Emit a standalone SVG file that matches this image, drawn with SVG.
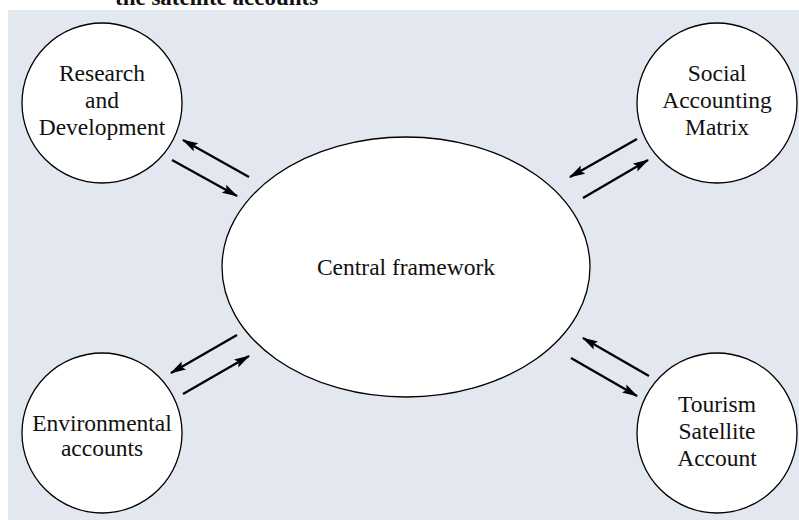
<svg xmlns="http://www.w3.org/2000/svg" width="799" height="520" viewBox="0 0 799 520">
<defs>
<style>
.bg{fill:#e2e7f0}
.node{fill:#ffffff;stroke:#000000;stroke-width:1.3}
.lbl{font-family:"Liberation Serif","Times New Roman",serif;font-size:23.5px;fill:#111111;text-anchor:middle}
.title{font-family:"Liberation Serif","Times New Roman",serif;font-size:23px;font-weight:bold;fill:#111111}
.arr{stroke:#000000;stroke-width:2.3;fill:none;marker-end:url(#ah)}
</style>
<marker id="ah" viewBox="0 0 14 8" refX="13" refY="4" markerWidth="7" markerHeight="4.2" orient="auto" markerUnits="strokeWidth">
<path d="M0,0 L14,4 L0,8 L2.5,4 Z" fill="#000000"/>
</marker>
</defs>
<rect class="bg" x="8" y="10" width="791" height="510"/>
<text class="title" x="115" y="5">the satellite accounts</text>
<g id="central">
<ellipse class="node" cx="406" cy="267" rx="184" ry="130"/>
<text class="lbl" x="406" y="275">Central framework</text>
</g>
<g id="research">
<circle class="node" cx="102" cy="103" r="80"/>
<text class="lbl" x="102" y="81">Research</text>
<text class="lbl" x="102" y="108">and</text>
<text class="lbl" x="102" y="135">Development</text>
</g>
<g id="sam">
<circle class="node" cx="717" cy="103" r="80"/>
<text class="lbl" x="717" y="81">Social</text>
<text class="lbl" x="717" y="108">Accounting</text>
<text class="lbl" x="717" y="135">Matrix</text>
</g>
<g id="environmental">
<circle class="node" cx="102" cy="433" r="80"/>
<text class="lbl" x="102" y="431">Environmental</text>
<text class="lbl" x="102" y="456">accounts</text>
</g>
<g id="tsa">
<circle class="node" cx="717" cy="433" r="80"/>
<text class="lbl" x="717" y="412">Tourism</text>
<text class="lbl" x="717" y="439">Satellite</text>
<text class="lbl" x="717" y="466">Account</text>
</g>
<g id="connectors">
<line class="arr" x1="249" y1="177" x2="183" y2="140"/>
<line class="arr" x1="172" y1="160" x2="237" y2="196"/>
<line class="arr" x1="637" y1="139" x2="570" y2="177"/>
<line class="arr" x1="583" y1="198" x2="648" y2="160"/>
<line class="arr" x1="237" y1="335" x2="171" y2="373"/>
<line class="arr" x1="183" y1="394" x2="249" y2="356"/>
<line class="arr" x1="649" y1="376" x2="583" y2="338"/>
<line class="arr" x1="571" y1="358" x2="637" y2="396"/>
</g>
</svg>
